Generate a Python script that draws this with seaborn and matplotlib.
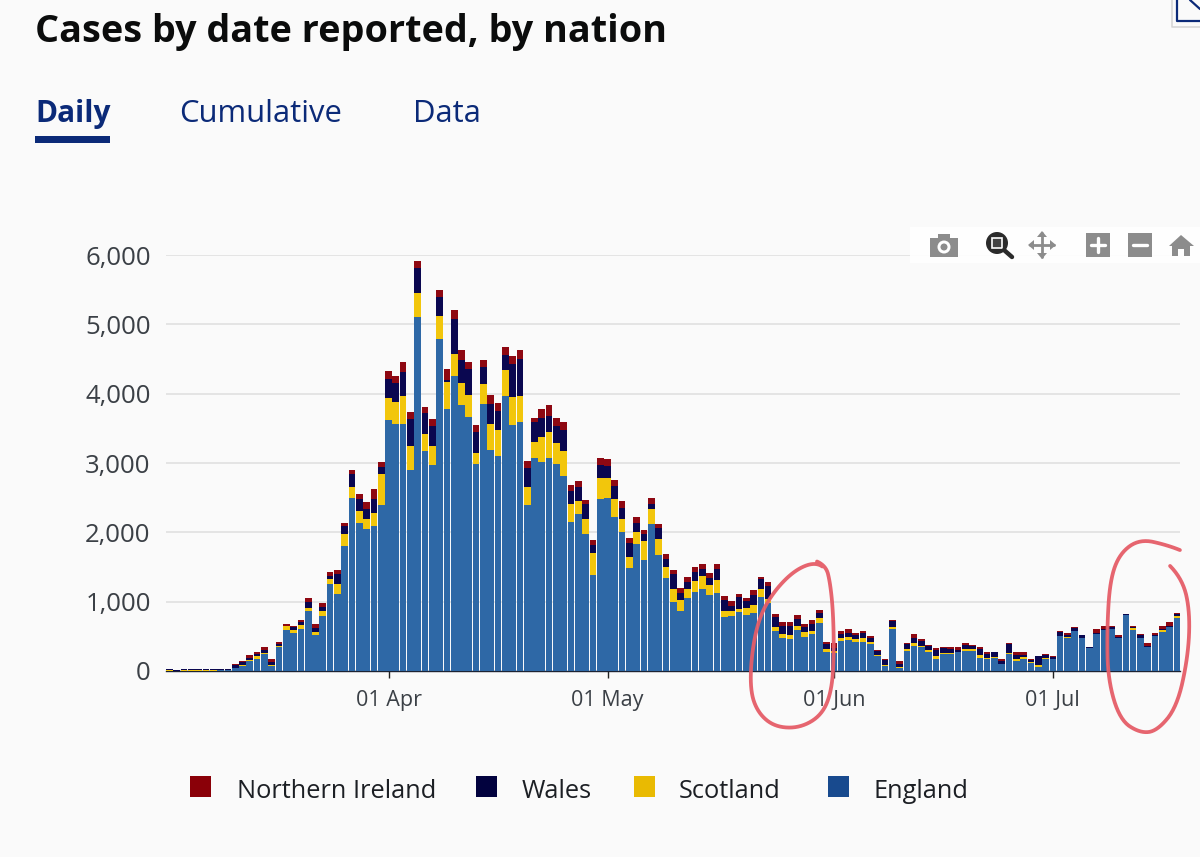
"""
Cases by date reported, by nation - stacked daily bars (screenshot with hand drawn circles)
"""

import matplotlib
matplotlib.use('Agg')
import matplotlib.pyplot as plt
import numpy as np
import pandas as pd
import seaborn as sns
from matplotlib.patches import Rectangle, Circle, Polygon

# Daily cases, first bar is 02 Mar
england = [5, 3, 6, 5, 6, 5, 6, 8, 10,
           40, 72, 140, 168, 240, 72, 341, 596, 543, 610, 860, 519, 788, 1254, 1115, 1797, 2495, 2134, 2047, 2096, 2399,
           3620, 3567, 3567, 2903, 5105, 3168, 2966, 4783, 3783, 4249, 3836, 3658, 2990, 3846, 3182, 3100, 3970, 3543, 3596, 2389,
           3076, 3014, 3076, 2990, 2812, 2149, 2259, 1980, 1389, 2476, 2490, 2221, 2005, 1481, 1832, 1601, 2120, 1678, 1336, 1000,
           870, 1048, 1139, 1178, 1101, 1130, 774, 793, 846, 808, 832, 1067, 976, 572, 481, 466, 591, 495, 538, 692,
           279, 264, 433, 442, 413, 413, 389, 221, 67, 610, 43, 288, 361, 351, 269, 178, 245, 250, 274, 293,
           293, 187, 168, 183, 96, 245, 139, 168, 115, 62, 168, 173, 505, 471, 572, 471, 336, 538, 591, 601,
           476, 803, 591, 481, 346, 505, 567, 630, 769]
scotland = [15, 2, 14, 15, 14, 15, 14, 12, 10,
            8, 18, 20, 45, 25, 20, 25, 50, 50, 60, 44, 43, 77, 73, 135, 174, 163, 173, 140, 178, 437,
            317, 308, 404, 342, 351, 245, 274, 336, 389, 327, 312, 327, 149, 293, 385, 371, 370, 404, 370, 264,
            231, 365, 366, 293, 356, 259, 188, 207, 317, 312, 298, 264, 182, 163, 173, 269, 216, 230, 159, 178,
            154, 139, 164, 187, 134, 182, 86, 67, 53, 101, 120, 120, 67, 67, 53, 48, 58, 67, 44, 68,
            43, 29, 48, 43, 53, 58, 24, 5, 24, 29, 17, 24, 38, 14, 29, 38, 15, 10, 5, 24,
            19, 44, 19, 24, 10, 19, 39, 29, 10, 29, 15, 2, 0, 14, 3, 0, 1, 0, 4, 0,
            2, 5, 24, 2, 2, 2, 24, 5, 24]
wales = [2, 12, 2, 2, 2, 2, 2, 2, 2,
         33, 35, 22, 25, 35, 40, 20, 5, 35, 30, 96, 63, 63, 43, 149, 115, 183, 173, 149, 211, 111,
         269, 274, 341, 384, 351, 308, 288, 270, 25, 505, 337, 366, 312, 240, 283, 283, 220, 483, 534, 274,
         284, 265, 240, 250, 303, 183, 202, 221, 111, 183, 164, 188, 159, 197, 125, 101, 72, 149, 115, 221,
         106, 92, 129, 106, 111, 154, 159, 77, 168, 96, 149, 145, 183, 135, 110, 135, 106, 68, 91, 81,
         67, 34, 55, 70, 50, 70, 62, 62, 62, 75, 40, 80, 70, 62, 62, 85, 70, 55, 30, 62,
         53, 80, 62, 62, 45, 125, 55, 40, 28, 120, 45, 30, 55, 30, 50, 48, 14, 10, 10, 40,
         8, 15, 25, 40, 10, 12, 15, 15, 30]
n_ireland = [0, 2, 0, 0, 0, 0, 0, 0, 0,
             15, 25, 44, 36, 50, 41, 37, 27, 26, 30, 57, 53, 47, 62, 57, 53, 52, 72, 101, 140, 72,
             120, 101, 139, 101, 110, 91, 106, 110, 158, 130, 149, 100, 97, 101, 125, 116, 113, 120, 130, 106,
             62, 139, 154, 115, 115, 96, 96, 58, 77, 96, 100, 81, 106, 82, 86, 67, 87, 58, 77, 57,
             62, 81, 73, 72, 62, 77, 63, 68, 39, 53, 62, 28, 57, 48, 58, 53, 48, 48, 58, 39,
             34, 72, 41, 46, 37, 36, 30, 15, 25, 21, 49, 17, 60, 30, 20, 26, 21, 36, 42, 25,
             10, 40, 30, 10, 17, 10, 46, 37, 20, 10, 22, 16, 17, 38, 5, 5, 0, 58, 49, 8,
             38, 4, 9, 6, 41, 34, 48, 52, 9]

nations = ['Northern Ireland', 'Wales', 'Scotland', 'England']
colours = ['#8e0812', '#0a0750', '#f2c60c', '#2e68a6']
legend_colours = ['#8a0008', '#02023e', '#e9ba02', '#184a8e']

y_ticks = [0, 1000, 2000, 3000, 4000, 5000, 6000]
x_tick_days = [30, 60, 91, 121]
x_tick_labels = ['01 Apr', '01 May', '01 Jun', '01 Jul']

BG = '#fafafa'
NAVY = '#0b2a78'
RED = '#e55d68'
GREY = '#8c8c8c'
TICK_TEXT = '#3b4046'

sns.set_theme(style='white')
plt.rcParams['font.family'] = ['Open Sans', 'DejaVu Sans']

df = pd.DataFrame({
    'day': np.arange(len(england)),
    'England': england,
    'Scotland': scotland,
    'Wales': wales,
    'Northern Ireland': n_ireland,
})
long_df = df.melt(id_vars='day', var_name='nation', value_name='cases')

fig = plt.figure(figsize=(12, 8.57), dpi=100, facecolor=BG)

# plot area in pixels: x 166-1180, y 255-671
ax = fig.add_axes([166 / 1200, 1 - 671 / 857, 1014 / 1200, 416 / 857], facecolor=BG)
sns.histplot(data=long_df, x='day', weights='cases', hue='nation', hue_order=nations,
             multiple='stack', discrete=True, shrink=0.91, palette=dict(zip(nations, colours)),
             alpha=1, linewidth=0, legend=False, ax=ax, zorder=3)

ax.set_xlim(-0.48, 138.42)
ax.set_ylim(0, 6000)
ax.set_xlabel('')
ax.set_ylabel('')
ax.set_yticks(y_ticks)
ax.set_yticklabels([f'{v:,}' for v in y_ticks], fontsize=18.5, color=TICK_TEXT)
ax.set_xticks(x_tick_days)
ax.set_xticklabels(x_tick_labels, fontsize=15.5, color=TICK_TEXT)
ax.grid(True, axis='y', color='#dedede', linewidth=1.1, zorder=0)
ax.set_axisbelow(True)
ax.tick_params(axis='y', length=0, pad=11)
ax.tick_params(axis='x', length=5, width=1, color='#222222', pad=9, bottom=True)
for side in ['top', 'left', 'right']:
    ax.spines[side].set_visible(False)
ax.spines['bottom'].set_color('#1c2333')
ax.spines['bottom'].set_linewidth(1)

# overlay in screen pixels for the page furniture
page = fig.add_axes([0, 0, 1, 1], facecolor='none')
page.set_xlim(0, 1200)
page.set_ylim(857, 0)
page.axis('off')

page.text(35, 42, 'Cases by date reported, by nation', fontsize=27.2, fontweight='bold',
          color='#0b0c0c', va='baseline')
page.text(35, 122, 'Daily', fontsize=21.5, fontweight='bold', color=NAVY, va='baseline')
page.text(179, 122, 'Cumulative', fontsize=22.3, color=NAVY, va='baseline')
page.text(413, 122, 'Data', fontsize=22.3, color=NAVY, va='baseline')
page.add_patch(Rectangle((35, 136), 75, 7, color=NAVY, lw=0))

# legend
legend_x = [190, 476, 634, 828]
text_x = [237, 522, 679, 873]
for name, col, lx, tx in zip(nations, legend_colours, legend_x, text_x):
    page.add_patch(Rectangle((lx, 776), 21, 21, color=col, lw=0))
    page.text(tx, 798, name, fontsize=18.3, color='#1c1f24', va='baseline')

# plotly toolbar
page.add_patch(Rectangle((910, 227), 290, 36, color='#ffffff', lw=0, alpha=0.9))
page.add_patch(Rectangle((930, 238), 28, 19, color=GREY, lw=0))
page.add_patch(Rectangle((938, 234), 12, 5, color=GREY, lw=0))
page.add_patch(Circle((944, 247), 6.5, facecolor='white', edgecolor='none'))
page.add_patch(Circle((944, 247), 3.5, facecolor=GREY, edgecolor='none'))
page.plot([1004, 1012], [250, 257], color='#2b2b2b', lw=3.2, solid_capstyle='round')
page.add_patch(Circle((997, 243), 11, facecolor='#2b2b2b', edgecolor='none'))
page.add_patch(Rectangle((992, 238), 10, 10, facecolor='#444444', edgecolor='white', lw=1.2))
page.plot([1030, 1054], [245, 245], color=GREY, lw=2)
page.plot([1042, 1042], [233, 257], color=GREY, lw=2)
for arrow in [[(1028, 245), (1034, 240), (1034, 250)], [(1056, 245), (1050, 240), (1050, 250)],
              [(1042, 231), (1037, 237), (1047, 237)], [(1042, 259), (1037, 253), (1047, 253)]]:
    page.add_patch(Polygon(arrow, color=GREY, lw=0))
page.add_patch(Rectangle((1086, 233), 24, 24, color=GREY, lw=0))
page.plot([1091, 1105], [245, 245], color='white', lw=2.4)
page.plot([1098, 1098], [238, 252], color='white', lw=2.4)
page.add_patch(Rectangle((1128, 233), 24, 24, color=GREY, lw=0))
page.plot([1133, 1147], [245, 245], color='white', lw=2.4)
page.add_patch(Polygon([(1169, 246), (1181, 235), (1194, 246), (1190, 246), (1190, 256),
                        (1184, 256), (1184, 249), (1178, 249), (1178, 256), (1172, 256), (1172, 246)],
                       color=GREY, lw=0))

# corner of the next widget, top right
page.plot([1172, 1172, 1200], [0, 27, 27], color='#d6d6d6', lw=1.2)
page.plot([1177, 1177, 1200], [0, 21, 21], color=NAVY, lw=1.6)
page.plot([1190, 1200], [0, 9], color=NAVY, lw=1.6)


# hand drawn circles
def smooth(points, rounds=3):
    pts = np.array(points, dtype=float)
    for _ in range(rounds):
        q = 0.75 * pts[:-1] + 0.25 * pts[1:]
        r = 0.25 * pts[:-1] + 0.75 * pts[1:]
        new = np.empty((len(q) * 2, 2))
        new[0::2] = q
        new[1::2] = r
        pts = new
    return pts


left_loop = [(810, 558), (826, 566), (830, 582), (833, 610), (834, 650), (832, 690), (822, 715),
             (800, 728), (775, 727), (758, 713), (750, 690), (752, 650), (760, 615), (775, 590),
             (795, 570), (815, 562), (828, 570)]
right_loop = [(1190, 554), (1167, 545), (1140, 539), (1120, 553), (1110, 580), (1107, 630), (1108, 680),
              (1120, 720), (1140, 733), (1157, 731), (1177, 707), (1188, 657), (1190, 613), (1183, 580),
              (1160, 555)]
for loop in [left_loop, right_loop]:
    line = smooth(loop)
    page.plot(line[:, 0], line[:, 1], color=RED, lw=2.7, solid_capstyle='round', alpha=0.95)

plt.savefig('out.png', dpi=100, facecolor=BG)
plt.close()
